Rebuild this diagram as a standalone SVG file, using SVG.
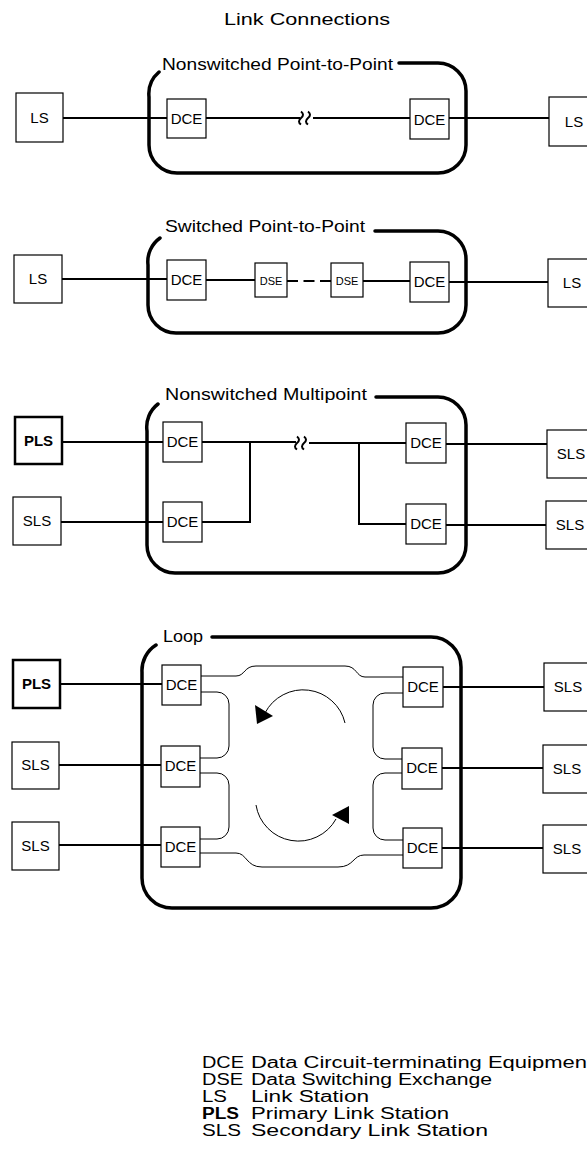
<svg xmlns="http://www.w3.org/2000/svg" width="587" height="1167" viewBox="0 0 587 1167">
<style>
text{font-family:"Liberation Sans",Arial,Helvetica,sans-serif;fill:#000}
.t{font-size:15px;text-anchor:middle}
.ts{font-size:11px;text-anchor:middle}
.b{font-weight:bold}
.lab{font-size:17px}
.leg{font-size:16px}
.box{fill:#fff;stroke:#000;stroke-width:1.2}
.pbox{fill:#fff;stroke:#000;stroke-width:2.5}
.link{fill:none;stroke:#000;stroke-width:2}
.thin{fill:none;stroke:#000;stroke-width:1}
.frame{fill:none;stroke:#000;stroke-width:3.5;stroke-linecap:round}
.arr{fill:#000}
</style>
<rect width="587" height="1167" fill="#fff"/>
<text id="title" class="lab" x="224" y="25" textLength="166" lengthAdjust="spacingAndGlyphs">Link Connections</text>

<g id="connectors">
  <!-- row 1 -->
  <path class="link" d="M63,118H167M206,118H300M313,118H410M449,118H549"/>
  <path class="link" stroke-width="1.6" d="M301,111.5q4,3 0,6.5q-4,3.5 0,6.5M308,111.5q4,3 0,6.5q-4,3.5 0,6.5"/>
  <!-- row 2 -->
  <path class="link" d="M62,279H167M206,280H255M363,281H410M449,282H548"/>
  <path class="link" stroke-dasharray="11,5.5" d="M287,281H331"/>
  <!-- row 3 -->
  <path class="link" d="M62,442H163M202,442H296M309,443H406M250,442V522H202M61,522H163M359,443V524H406M446,444H547M446,525H546"/>
  <path class="link" stroke-width="1.6" d="M297,436.5q4,3 0,6.5q-4,3.5 0,6.5M304,436.5q4,3 0,6.5q-4,3.5 0,6.5"/>
  <!-- row 4 -->
  <path class="link" d="M60,684H162M59,765H161M59,845H161M443,687H544M442,768H543M442,848H543"/>
  <path class="thin" d="M201,676H236C245,676 244,666 256,666H345C357,666 356,677 365,677H403"/>
  <path class="thin" d="M201,692H217A12,12 0 0 1 229,704V746A12,12 0 0 1 217,758H200"/>
  <path class="thin" d="M200,773H217A12,12 0 0 1 229,785V827A12,12 0 0 1 217,839H200"/>
  <path class="thin" d="M200,853H236C247,853 246,867 262,867H338C354,867 353,855 364,855H403"/>
  <path class="thin" d="M403,693H385A12,12 0 0 0 373,705V747A12,12 0 0 0 385,759H402"/>
  <path class="thin" d="M402,773H385A12,12 0 0 0 373,785V828A12,12 0 0 0 385,840H403"/>
  <path class="thin" d="M345,723A43,43 0 0 0 265,713"/>
  <polygon class="arr" points="257,724 255,705 273,716"/>
  <path class="thin" d="M256,805A43,43 0 0 0 336,819"/>
  <polygon class="arr" points="349,806 332,815 349,824"/>
</g>

<g id="frame-nonswitched-ptp">
  <path class="frame" d="M399,63H438A28,28 0 0 1 466,91V145A28,28 0 0 1 438,173H177A28,28 0 0 1 149,145V97A29,29 0 0 1 159,72"/>
  <text class="lab" x="162" y="70" textLength="231" lengthAdjust="spacingAndGlyphs">Nonswitched Point-to-Point</text>
</g>
<g id="frame-switched-ptp">
  <path class="frame" d="M375,231H438A28,28 0 0 1 466,259V305A28,28 0 0 1 438,333H176A28,28 0 0 1 148,305V265A29,29 0 0 1 160,238"/>
  <text class="lab" x="165" y="232" textLength="200" lengthAdjust="spacingAndGlyphs">Switched Point-to-Point</text>
</g>
<g id="frame-nonswitched-mp">
  <path class="frame" d="M376,397H438A28,28 0 0 1 466,425V545A28,28 0 0 1 438,573H175A28,28 0 0 1 147,545V431A29,29 0 0 1 158,404"/>
  <text class="lab" x="165" y="400" textLength="202" lengthAdjust="spacingAndGlyphs">Nonswitched Multipoint</text>
</g>
<g id="frame-loop">
  <path class="frame" d="M212,637H431A30,30 0 0 1 461,667V878A30,30 0 0 1 431,908H172A30,30 0 0 1 142,878V672A30,30 0 0 1 156,645"/>
  <text class="lab" x="163" y="642" textLength="40" lengthAdjust="spacingAndGlyphs">Loop</text>
</g>

<!-- row 1 nodes -->
<g id="r1-ls-left"><rect class="box" x="16" y="93" width="47" height="49"/><text class="t" x="39.5" y="123">LS</text></g>
<g id="r1-dce-left"><rect class="box" x="167" y="99" width="39" height="39"/><text class="t" x="186.5" y="124">DCE</text></g>
<g id="r1-dce-right"><rect class="box" x="410" y="99" width="39" height="40"/><text class="t" x="429.5" y="124.5">DCE</text></g>
<g id="r1-ls-right"><rect class="box" x="549" y="97" width="50" height="49"/><text class="t" x="574" y="127">LS</text></g>

<!-- row 2 nodes -->
<g id="r2-ls-left"><rect class="box" x="14" y="255" width="48" height="48"/><text class="t" x="38" y="284">LS</text></g>
<g id="r2-dce-left"><rect class="box" x="167" y="260" width="39" height="40"/><text class="t" x="186.5" y="285">DCE</text></g>
<g id="r2-dse-1"><rect class="box" x="255" y="263" width="32" height="34"/><text class="ts" x="271" y="284.5">DSE</text></g>
<g id="r2-dse-2"><rect class="box" x="331" y="263" width="32" height="34"/><text class="ts" x="347" y="284.5">DSE</text></g>
<g id="r2-dce-right"><rect class="box" x="410" y="262" width="39" height="40"/><text class="t" x="429.5" y="287">DCE</text></g>
<g id="r2-ls-right"><rect class="box" x="548" y="259" width="50" height="48"/><text class="t" x="572" y="288">LS</text></g>

<!-- row 3 nodes -->
<g id="r3-pls"><rect class="pbox" x="15" y="417" width="47" height="47"/><text class="t b" x="38.5" y="446">PLS</text></g>
<g id="r3-sls-left"><rect class="box" x="13" y="497" width="48" height="48"/><text class="t" x="37" y="526">SLS</text></g>
<g id="r3-dce-tl"><rect class="box" x="163" y="422" width="39" height="40"/><text class="t" x="182.5" y="447">DCE</text></g>
<g id="r3-dce-bl"><rect class="box" x="163" y="502" width="39" height="40"/><text class="t" x="182.5" y="527">DCE</text></g>
<g id="r3-dce-tr"><rect class="box" x="406" y="423" width="40" height="40"/><text class="t" x="426" y="448">DCE</text></g>
<g id="r3-dce-br"><rect class="box" x="406" y="504" width="40" height="40"/><text class="t" x="426" y="529">DCE</text></g>
<g id="r3-sls-tr"><rect class="box" x="547" y="430" width="50" height="48"/><text class="t" x="571" y="459">SLS</text></g>
<g id="r3-sls-br"><rect class="box" x="546" y="501" width="50" height="48"/><text class="t" x="570" y="530">SLS</text></g>

<!-- row 4 nodes -->
<g id="r4-pls"><rect class="pbox" x="13" y="660" width="47" height="48"/><text class="t b" x="36.5" y="689">PLS</text></g>
<g id="r4-sls-l2"><rect class="box" x="12" y="742" width="47" height="47"/><text class="t" x="35.5" y="770">SLS</text></g>
<g id="r4-sls-l3"><rect class="box" x="12" y="822" width="47" height="48"/><text class="t" x="35.5" y="851">SLS</text></g>
<g id="r4-dce-l1"><rect class="box" x="162" y="665" width="39" height="40"/><text class="t" x="181.5" y="690">DCE</text></g>
<g id="r4-dce-l2"><rect class="box" x="161" y="746" width="39" height="41"/><text class="t" x="180.5" y="771">DCE</text></g>
<g id="r4-dce-l3"><rect class="box" x="161" y="827" width="39" height="40"/><text class="t" x="180.5" y="852">DCE</text></g>
<g id="r4-dce-r1"><rect class="box" x="403" y="667" width="40" height="40"/><text class="t" x="423" y="692">DCE</text></g>
<g id="r4-dce-r2"><rect class="box" x="402" y="748" width="40" height="41"/><text class="t" x="422" y="773">DCE</text></g>
<g id="r4-dce-r3"><rect class="box" x="403" y="828" width="39" height="40"/><text class="t" x="422.5" y="853">DCE</text></g>
<g id="r4-sls-r1"><rect class="box" x="544" y="663" width="50" height="48"/><text class="t" x="568" y="692">SLS</text></g>
<g id="r4-sls-r2"><rect class="box" x="543" y="745" width="50" height="48"/><text class="t" x="567" y="774">SLS</text></g>
<g id="r4-sls-r3"><rect class="box" x="543" y="825" width="50" height="48"/><text class="t" x="567" y="854">SLS</text></g>

<g id="legend">
  <text class="leg" x="202" y="1068" textLength="42" lengthAdjust="spacingAndGlyphs">DCE</text>
  <text class="leg" x="251" y="1068" textLength="342" lengthAdjust="spacingAndGlyphs">Data Circuit-terminating Equipment</text>
  <text class="leg" x="202" y="1085" textLength="41" lengthAdjust="spacingAndGlyphs">DSE</text>
  <text class="leg" x="251" y="1085" textLength="241" lengthAdjust="spacingAndGlyphs">Data Switching Exchange</text>
  <text class="leg" x="202" y="1102" textLength="25" lengthAdjust="spacingAndGlyphs">LS</text>
  <text class="leg" x="251" y="1102" textLength="118" lengthAdjust="spacingAndGlyphs">Link Station</text>
  <text class="leg b" x="202" y="1119" textLength="37" lengthAdjust="spacingAndGlyphs">PLS</text>
  <text class="leg" x="251" y="1119" textLength="198" lengthAdjust="spacingAndGlyphs">Primary Link Station</text>
  <text class="leg" x="202" y="1136" textLength="39" lengthAdjust="spacingAndGlyphs">SLS</text>
  <text class="leg" x="251" y="1136" textLength="237" lengthAdjust="spacingAndGlyphs">Secondary Link Station</text>
</g>
</svg>
